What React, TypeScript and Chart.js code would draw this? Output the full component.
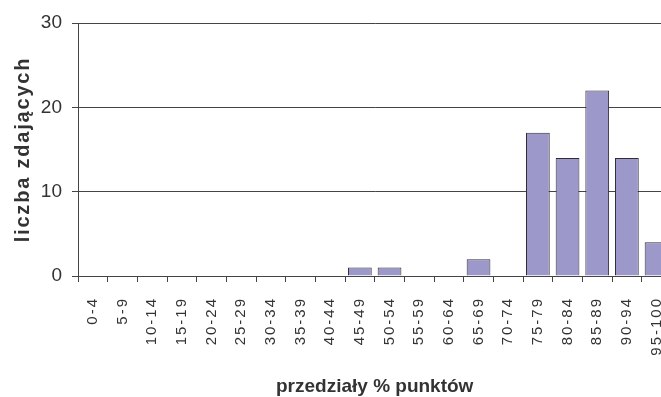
import React, { useEffect, useRef } from "react";
import { Chart, registerables } from "chart.js";

Chart.register(...registerables);

const categories = [
  "0-4", "5-9", "10-14", "15-19", "20-24", "25-29", "30-34", "35-39", "40-44", "45-49",
  "50-54", "55-59", "60-64", "65-69", "70-74", "75-79", "80-84", "85-89", "90-94", "95-100",
];
const counts = [0, 0, 0, 0, 0, 0, 0, 0, 0, 1, 1, 0, 0, 2, 0, 17, 14, 22, 14, 4];
const yMin = 0;
const yMax = 30;
const yStep = 10;
const yTitle = "liczba zdających";
const xTitle = "przedziały % punktów";

const FONT = "'Liberation Sans', Arial, sans-serif";
const TEXT = "#333333";
const LINE = "#444444";

const titlePlugin = {
  id: "customTitles",
  afterDraw(chart: any) {
    const ctx = chart.ctx as any;
    const area = chart.chartArea;
    ctx.save();
    ctx.fillStyle = TEXT;
    ctx.letterSpacing = "0px";
    ctx.font = `bold 19px ${FONT}`;
    ctx.textAlign = "center";
    ctx.textBaseline = "alphabetic";
    ctx.fillText(xTitle, (area.left + area.right) / 2, area.bottom + 116);
    ctx.restore();

    ctx.save();
    ctx.fillStyle = TEXT;
    ctx.letterSpacing = "1.8px";
    ctx.font = `bold 20px ${FONT}`;
    ctx.textAlign = "center";
    ctx.textBaseline = "middle";
    ctx.translate(area.left - 55, (area.top + area.bottom) / 2);
    ctx.rotate(-Math.PI / 2);
    ctx.fillText(yTitle, 0, 0);
    ctx.restore();
  },
};

function spacedLabels(spacing: string) {
  return (scale: any) => {
    if (scale.__spaced) return;
    scale.__spaced = true;
    const orig = scale.drawLabels.bind(scale);
    scale.drawLabels = (area: any) => {
      const ctx = scale.ctx as any;
      const prev = ctx.letterSpacing;
      ctx.letterSpacing = spacing;
      orig(area);
      ctx.letterSpacing = prev || "0px";
    };
  };
}

export default function App() {
  const ref = useRef<HTMLCanvasElement>(null);

  useEffect(() => {
    if (!ref.current) return;
    const chart = new Chart(ref.current, {
      type: "bar",
      data: {
        labels: categories,
        datasets: [
          {
            data: counts,
            backgroundColor: "#9C98CA",
            borderColor: "#2E2E3A",
            borderWidth: 1,
            barPercentage: 0.8,
            categoryPercentage: 1,
          },
        ],
      },
      options: {
        animation: false,
        responsive: false,
        layout: { padding: { top: 23, right: 18, bottom: 0, left: 0 } },
        plugins: {
          legend: { display: false },
          tooltip: { enabled: false },
        },
        scales: {
          x: {
            afterFit(scale: any) {
              scale.height = 121;
            },
            afterUpdate: spacedLabels("2px"),
            grid: {
              display: true,
              drawOnChartArea: false,
              drawTicks: true,
              tickLength: 6,
              color: LINE,
              offset: true,
            },
            border: { display: true, color: LINE },
            ticks: {
              autoSkip: false,
              minRotation: 90,
              maxRotation: 90,
              padding: 15,
              color: TEXT,
              font: { family: FONT, size: 15 },
            },
          },
          y: {
            min: yMin,
            max: yMax,
            afterFit(scale: any) {
              scale.width = 78;
            },
            grid: {
              color: LINE,
              tickLength: 6,
            },
            border: { display: true, color: LINE },
            ticks: {
              stepSize: yStep,
              padding: 10,
              color: TEXT,
              font: { family: FONT, size: 19 },
            },
          },
        },
      },
      plugins: [titlePlugin],
    });
    return () => chart.destroy();
  }, []);

  return (
    <div
      style={{
        position: "fixed",
        left: 0,
        top: 0,
        width: 661,
        height: 397,
        overflow: "hidden",
        background: "#ffffff",
      }}
    >
      <canvas ref={ref} width={690} height={397} style={{ display: "block" }} />
    </div>
  );
}
